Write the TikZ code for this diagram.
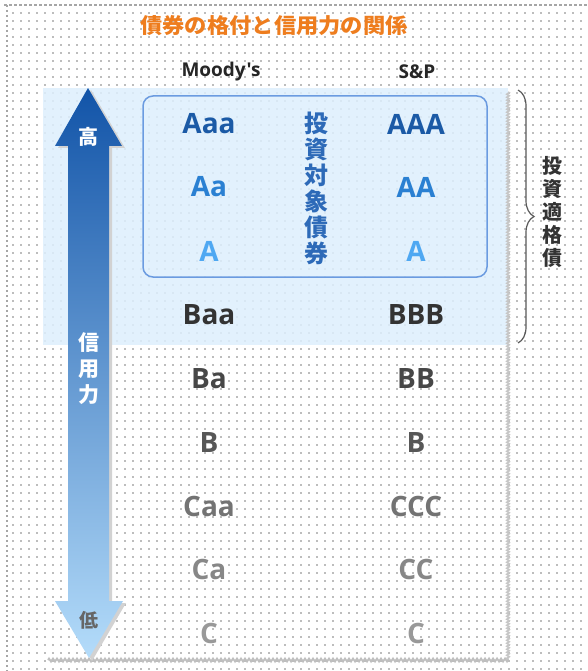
\documentclass[tikz,border=0pt]{standalone}
\usepackage{fontspec}
\usepackage{graphicx}
\setmainfont{Open Sans}[Ligatures=TeXOff]
\newfontfamily\jp{Noto Sans CJK JP}
\usetikzlibrary{decorations.pathreplacing,decorations.pathmorphing}
\definecolor{ttlorange}{HTML}{EE7D1E}
\definecolor{bandblue}{HTML}{DDEFFD}
\definecolor{boxblue}{HTML}{6B9BE0}
\definecolor{aaablue}{HTML}{1B5AA6}
\definecolor{aablue}{HTML}{2A80D2}
\definecolor{ablue}{HTML}{4FA8F2}
\definecolor{vblue}{HTML}{2D6AB8}
\definecolor{gridgray}{HTML}{BDBDBD}
\definecolor{arrtop}{HTML}{1254A8}
\definecolor{arrmid}{HTML}{4A88DA}
\definecolor{arrbot}{HTML}{B4DCFA}
\tikzset{
  rating/.style={font=\fontsize{28}{30}\selectfont\bfseries, inner sep=0pt, anchor=center},
  header/.style={font=\fontsize{19}{21}\selectfont\bfseries, text=black!85, inner sep=0pt},
  vtext/.style={align=center, inner sep=0pt},
}
\begin{document}
\begin{tikzpicture}[x=1pt,y=-1pt]
\useasboundingbox (0,0) rectangle (587,671);
\fill[white] (0,0) rectangle (587,671);
% dot grid background
\foreach \yy in {13,21,...,671}{
  \draw[gridgray, line width=1.5pt, dash pattern=on 1.5pt off 6.5pt] (12,\yy) -- (587,\yy);
}
% outer dotted borders
\draw[gray!70, line width=1.5pt, dash pattern=on 3pt off 2pt] (4,5) -- (587,5);
\draw[gray!70, line width=1.5pt, dash pattern=on 2pt off 3pt] (7,5) -- (7,671);
% light blue band
\fill[bandblue, opacity=0.85] (43,88) rectangle (508,345);
% right and bottom edges of the table
\draw[gray!45, line width=1.6pt, decorate, decoration={zigzag, segment length=3pt, amplitude=1.2pt}] (508,92) -- (508,660);
\draw[gray!50, line width=1.8pt, decorate, decoration={zigzag, segment length=4pt, amplitude=1.5pt}] (48,660) -- (508,660);
% investment-target box
\draw[boxblue, line width=1.5pt, rounded corners=10pt] (143,96) rectangle (487,277);
% credit arrow: shadow then gradient body
\fill[gray!35] (91,90) -- (125,148) -- (112,148) -- (112,603) -- (126,603) -- (92,661) -- (58,603) -- (71,603) -- (71,148) -- (58,148) -- cycle;
\shade[top color=arrtop, middle color=arrmid, bottom color=arrbot] (88,88) -- (122,146) -- (109,146) -- (109,601) -- (123,601) -- (89,658) -- (55,601) -- (68,601) -- (68,146) -- (55,146) -- cycle;
% title and headers
\node[font=\jp\bfseries\fontsize{21}{23}\selectfont, text=ttlorange, inner sep=0pt] (title) at (274,26) {\scalebox{1.06}[1]{債券の格付と信用力の関係}};
\node[header] (moody) at (221,72) {Moody's};
\node[header] (sp) at (417,72) {S\&P};
% arrow labels
\node[font=\jp\bfseries\fontsize{20}{22}\selectfont, text=white, inner sep=0pt] (high) at (88,137) {高};
\node[vtext, font=\jp\bfseries\fontsize{21}{26}\selectfont, text=white] (credit) at (89,369) {信\\用\\力};
\node[font=\jp\bfseries\fontsize{19}{21}\selectfont, text=black!60, inner sep=0pt] (low) at (89,620) {低};
% ratings
\node[rating, text=aaablue] (m1) at (209,124) {Aaa};
\node[rating, text=aablue] (m2) at (209,187) {Aa};
\node[rating, text=ablue] (m3) at (209,251) {A};
\node[rating, text=black!80] (m4) at (209,315) {Baa};
\node[rating, text=black!72] (m5) at (209,379) {Ba};
\node[rating, text=black!66] (m6) at (209,443) {B};
\node[rating, text=black!55] (m7) at (209,506) {Caa};
\node[rating, text=black!47] (m8) at (209,569) {Ca};
\node[rating, text=black!40] (m9) at (209,633) {C};
\node[rating, text=aaablue] (s1) at (416,124) {AAA};
\node[rating, text=aablue] (s2) at (416,187) {AA};
\node[rating, text=ablue] (s3) at (416,251) {A};
\node[rating, text=black!80] (s4) at (416,315) {BBB};
\node[rating, text=black!72] (s5) at (416,379) {BB};
\node[rating, text=black!66] (s6) at (416,443) {B};
\node[rating, text=black!55] (s7) at (416,506) {CCC};
\node[rating, text=black!47] (s8) at (416,569) {CC};
\node[rating, text=black!40] (s9) at (416,633) {C};
% vertical label inside box
\node[vtext, font=\jp\bfseries\fontsize{24}{26}\selectfont, text=vblue] (target) at (316,188) {投\\資\\対\\象\\債\\券};
% brace and its label
\coordinate (btop) at (518,90);
\coordinate (bbot) at (518,343);
\draw[black!65, line width=1.2pt, decorate, decoration={brace, amplitude=16pt}] (btop) -- (bbot);
\node[vtext, font=\jp\bfseries\fontsize{20}{23}\selectfont, text=black!80] (grade) at (552,212) {投\\資\\適\\格\\債};
\end{tikzpicture}
\end{document}
